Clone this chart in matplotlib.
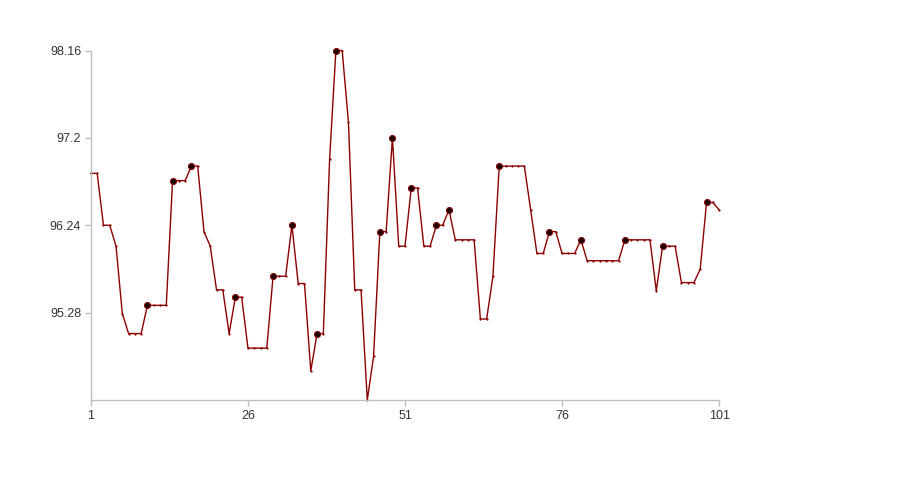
import matplotlib.pyplot as plt

# values, one per x step (1..101)
x = list(range(1, 102))
values = [
    96.81, 96.81, 96.24, 96.24, 96.01, 95.27, 95.05, 95.05, 95.05, 95.36,
    95.36, 95.36, 95.36, 96.73, 96.73, 96.73, 96.89, 96.89, 96.17, 96.01,
    95.53, 95.53, 95.05, 95.45, 95.45, 94.89, 94.89, 94.89, 94.89, 95.68,
    95.68, 95.68, 96.24, 95.60, 95.60, 94.64, 95.05, 95.05, 96.97, 98.16,
    98.16, 97.37, 95.53, 95.53, 94.32, 94.80, 96.17, 96.17, 97.20, 96.01,
    96.01, 96.65, 96.65, 96.01, 96.01, 96.24, 96.24, 96.41, 96.08, 96.08,
    96.08, 96.08, 95.21, 95.21, 95.68, 96.89, 96.89, 96.89, 96.89, 96.89,
    96.41, 95.93, 95.93, 96.17, 96.17, 95.93, 95.93, 95.93, 96.08, 95.85,
    95.85, 95.85, 95.85, 95.85, 95.85, 96.08, 96.08, 96.08, 96.08, 96.08,
    95.52, 96.01, 96.01, 96.01, 95.61, 95.61, 95.61, 95.76, 96.49, 96.49,
    96.41,
]
# points drawn with a big black marker
highlight = [10, 14, 17, 24, 30, 33, 37, 40, 47, 49, 52, 56, 58, 66, 74, 79, 86, 92, 99]

y_ticks = [95.28, 96.24, 97.2, 98.16]
x_ticks = [1, 26, 51, 76, 101]

line_color = '#8b0000'
axis_color = '#bfbfbf'

plt.rcParams['font.family'] = ['Liberation Sans', 'DejaVu Sans']

fig = plt.figure(figsize=(9, 5), dpi=100)
ax = fig.add_axes([0.101, 0.2, 0.698, 0.699])

ax.plot(x, values, color=line_color, linewidth=1.0, marker='o',
        markersize=1.6, markerfacecolor=line_color, markeredgewidth=0,
        clip_on=False)

hx = [x[i - 1] for i in highlight]
hy = [values[i - 1] for i in highlight]
ax.plot(hx, hy, linestyle='none', marker='o', markersize=4.4,
        markerfacecolor='#1a0000', markeredgecolor=line_color, markeredgewidth=0.7,
        clip_on=False)

ax.set_xlim(1, 101)
ax.set_ylim(94.32, 98.16)
ax.set_xticks(x_ticks)
ax.set_xticklabels([str(t) for t in x_ticks])
ax.set_yticks(y_ticks)
ax.set_yticklabels(['95.28', '96.24', '97.2', '98.16'])

for side in ['top', 'right']:
    ax.spines[side].set_visible(False)
for side in ['left', 'bottom']:
    ax.spines[side].set_color(axis_color)
    ax.spines[side].set_linewidth(1)
ax.tick_params(colors=axis_color, labelcolor='#333333', labelsize=9,
               length=4, width=1, pad=3)

fig.savefig('out.png', dpi=100)
